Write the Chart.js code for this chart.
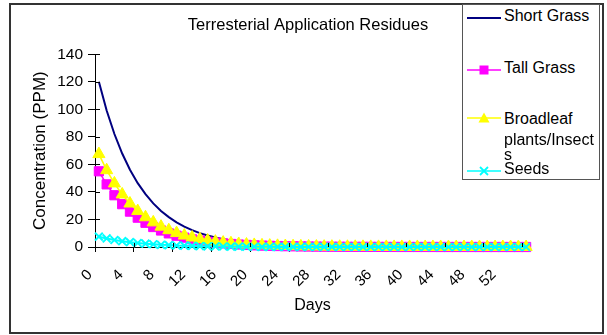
<!DOCTYPE html>
<html>
<head>
<meta charset="utf-8">
<script src="https://cdn.jsdelivr.net/npm/chart.js@4.4.0/dist/chart.umd.min.js"></script>
<style>
  html, body { margin: 0; padding: 0; background: #fff; }
  #wrap { position: relative; width: 607px; height: 335px; overflow: hidden; background: #fff; }
  #c { position: absolute; left: 0; top: 0; }
  #frame { position: absolute; left: 9px; top: 3px; width: 595px; height: 331px; border: 2px solid #333; box-sizing: border-box; pointer-events: none; }
  #legend { position: absolute; left: 462px; top: 4px; width: 138px; height: 176px; border: 1px solid #555; box-sizing: border-box; background: #fff; }
  .lg-sample { position: absolute; left: 4px; }
  .lg-text { position: absolute; left: 41px; font: 16px "Liberation Sans", Arial, sans-serif; line-height: 16px; color: #000; white-space: nowrap; }
</style>
</head>
<body>
<div id="wrap">
  <canvas id="c" width="607" height="335"></canvas>
  <div id="frame"></div>
  <div id="legend"></div>
</div>
<script>
// ---------- data ----------
const days = ["0","1","2","3","4","5","6","7","8","9","10","11","12","13","14","15","16","17","18","19",
  "20","21","22","23","24","25","26","27","28","29","30","31","32","33","34","35","36","37","38","39",
  "40","41","42","43","44","45","46","47","48","49","50","51","52","53","54","55"];
const xTickLabels = ["0","4","8","12","16","20","24","28","32","36","40","44","48","52"];
const yTickValues = [0, 20, 40, 60, 80, 100, 120, 140];

const shortGrass = [120, 99.2, 82.1, 67.9, 56.1, 46.4, 38.4, 31.7, 26.2, 21.7,
  17.9, 14.8, 12.3, 10.1, 8.4, 6.9, 5.7, 4.7, 3.9, 3.2,
  2.7, 2.2, 1.8, 1.5, 1.3, 1.0, 0.86, 0.71, 0.59, 0.49,
  0.40, 0.33, 0.27, 0.23, 0.19, 0.16, 0.13, 0.11, 0.09, 0.07,
  0.06, 0.05, 0.04, 0.03, 0.03, 0.02, 0.02, 0.02, 0.01, 0.01,
  0.01, 0.01, 0.01, 0, 0, 0];
const tallGrass = [55, 45.5, 37.6, 31.1, 25.7, 21.3, 17.6, 14.5, 12.0, 9.9,
  8.2, 6.8, 5.6, 4.7, 3.8, 3.2, 2.6, 2.2, 1.8, 1.5,
  1.2, 1.0, 0.84, 0.70, 0.58, 0.48, 0.39, 0.33, 0.27, 0.22,
  0.18, 0.15, 0.13, 0.10, 0.09, 0.07, 0.06, 0.05, 0.04, 0.03,
  0.03, 0.02, 0.02, 0.02, 0.01, 0.01, 0.01, 0.01, 0.01, 0,
  0, 0, 0, 0, 0, 0];
const broadleaf = [67.5, 55.8, 46.2, 38.2, 31.6, 26.1, 21.6, 17.9, 14.8, 12.2,
  10.1, 8.3, 6.9, 5.7, 4.7, 3.9, 3.2, 2.7, 2.2, 1.8,
  1.5, 1.2, 1.0, 0.85, 0.71, 0.58, 0.48, 0.40, 0.33, 0.27,
  0.23, 0.19, 0.15, 0.13, 0.11, 0.09, 0.07, 0.06, 0.05, 0.04,
  0.03, 0.03, 0.02, 0.02, 0.02, 0.01, 0.01, 0.01, 0.01, 0.01,
  0, 0, 0, 0, 0, 0];
const seeds = [7.5, 6.2, 5.1, 4.2, 3.5, 2.9, 2.4, 2.0, 1.6, 1.4,
  1.1, 0.93, 0.77, 0.63, 0.52, 0.43, 0.36, 0.30, 0.25, 0.20,
  0.17, 0.14, 0.11, 0.09, 0.08, 0.06, 0.05, 0.04, 0.04, 0.03,
  0.03, 0.02, 0.02, 0.01, 0.01, 0.01, 0.01, 0.01, 0, 0,
  0, 0, 0, 0, 0, 0, 0, 0, 0, 0,
  0, 0, 0, 0, 0, 0];

const seriesNames = ["Short Grass", "Tall Grass", "Broadleaf plants/Insects", "Seeds"];
const legendLines = [["Short Grass"], ["Tall Grass"], ["Broadleaf", "plants/Insect", "s"], ["Seeds"]];
const chartTitle = "Terresterial Application Residues";
const xTitle = "Days";
const yTitle = "Concentration (PPM)";

// ---------- styles ----------
const FONT = '"Liberation Sans", Arial, sans-serif';
const colors = ["#000080", "#FF00FF", "#FFFF00", "#00FFFF"];
const pointStyles = [false, "rect", "triangle", "crossRot"];

// crossing tick marks (Excel style "cross")
const crossTicks = {
  id: 'crossTicks',
  afterDraw(chart) {
    const ctx = chart.ctx;
    const xs = chart.scales.x, ys = chart.scales.y;
    const a = chart.chartArea;
    ctx.save();
    ctx.strokeStyle = '#000';
    ctx.lineWidth = 1;
    ctx.beginPath();
    ys.ticks.forEach(t => {
      const py = Math.round(ys.getPixelForValue(t.value)) + 0.5;
      ctx.moveTo(a.left, py); ctx.lineTo(a.left + 5, py);
    });
    for (let i = 0; i <= days.length; i += 5) {
      const px = Math.round(xs.getPixelForValue(i - 0.5)) + 0.5;
      ctx.moveTo(px, a.bottom); ctx.lineTo(px, a.bottom - 4);
    }
    ctx.stroke();
    ctx.restore();
  }
};

const datasets = [
  { label: seriesNames[0], data: shortGrass, borderColor: colors[0], backgroundColor: colors[0],
    borderWidth: 2, pointRadius: 0, order: 4, clip: false },
  { label: seriesNames[1], data: tallGrass, borderColor: colors[1], backgroundColor: colors[1],
    borderWidth: 1.5, pointStyle: pointStyles[1], pointRadius: 6.5, pointBorderWidth: 1, order: 3, clip: false },
  { label: seriesNames[2], data: broadleaf, borderColor: colors[2], backgroundColor: colors[2],
    borderWidth: 1.5, pointStyle: pointStyles[2], pointRadius: 7, pointBorderWidth: 1, order: 2, clip: false },
  { label: seriesNames[3], data: seeds, borderColor: colors[3], backgroundColor: colors[3],
    borderWidth: 2, pointStyle: pointStyles[3], pointRadius: 5.5, pointBorderWidth: 2, order: 1, clip: false }
];

new Chart(document.getElementById('c'), {
  type: 'line',
  data: { labels: days, datasets },
  options: {
    responsive: false,
    animation: false,
    devicePixelRatio: 1,
    layout: { padding: { left: 26, right: 17, top: 0, bottom: 19 } },
    plugins: {
      legend: { display: false },
      tooltip: { enabled: false },
      title: { display: true, text: chartTitle, color: '#000',
        font: { family: FONT, size: 16.5, weight: 'normal' }, padding: { top: 16, bottom: 18.5 } }
    },
    elements: { line: { tension: 0 } },
    scales: {
      x: {
        type: 'category',
        offset: true,
        border: { color: '#000', width: 1 },
        grid: { offset: true, drawOnChartArea: false, tickLength: 5,
          color: (c) => (c.index % 5 === 0 ? '#000' : 'rgba(0,0,0,0)') },
        ticks: { autoSkip: false, minRotation: 45, maxRotation: 45, padding: 14, labelOffset: -9, color: '#000',
          font: { family: FONT, size: 15 },
          callback: (v, i) => (xTickLabels.includes(days[i]) ? days[i] : '') },
        title: { display: true, text: xTitle, color: '#000', font: { family: FONT, size: 16 },
          padding: { top: 0, bottom: 1 } },
        afterFit: (s) => { s.height = 69; }
      },
      y: {
        min: 0, max: 140,
        border: { color: '#000', width: 1 },
        grid: { drawOnChartArea: false, tickLength: 7, color: '#000' },
        afterBuildTicks: (s) => { s.ticks = yTickValues.map(v => ({ value: v })); },
        ticks: { padding: 5, color: '#000', font: { family: FONT, size: 15.5 } },
        title: { display: true, text: yTitle, color: '#000', font: { family: FONT, size: 17 },
          padding: { top: 4, bottom: 0 } },
        afterFit: (s) => { s.width = 69; }
      },
      yPad: {
        position: 'right', display: true,
        grid: { display: false }, border: { display: false }, ticks: { display: false },
        afterFit: (s) => { s.width = 60; }
      }
    }
  },
  plugins: [crossTicks]
});

// ---------- HTML legend ----------
const legend = document.getElementById('legend');
const sampleY = [11, 63, 111, 164];        // sample centres (px, inside box)
const textBaselines = [16.5, 68, 119, 169]; // first-line baselines inside box
const lineGaps = [0, 21, 15];
function markerSVG(i) {
  const c = colors[i];
  let m = '';
  if (pointStyles[i] === 'rect') m = `<rect x="12.5" y="1.5" width="9" height="9" fill="${c}"/>`;
  if (pointStyles[i] === 'triangle') m = `<polygon points="17,0.5 22.5,10.5 11.5,10.5" fill="${c}"/>`;
  if (pointStyles[i] === 'crossRot') m = `<path d="M13,2 L21,10 M21,2 L13,10" stroke="${c}" stroke-width="1.8"/>`;
  return `<svg width="34" height="12" xmlns="http://www.w3.org/2000/svg"><line x1="0" y1="6" x2="34" y2="6" stroke="${c}" stroke-width="${i === 0 ? 2 : 1.5}"/>${m}</svg>`;
}
seriesNames.forEach((name, i) => {
  const s = document.createElement('div');
  s.className = 'lg-sample';
  s.style.top = (sampleY[i] - 6) + 'px';
  s.innerHTML = markerSVG(i);
  legend.appendChild(s);
  legendLines[i].forEach((ln, k) => {
    let base = textBaselines[i];
    for (let j = 1; j <= k; j++) base += lineGaps[j];
    const t = document.createElement('div');
    t.className = 'lg-text';
    t.style.top = (base - 13.5) + 'px';
    t.textContent = ln;
    legend.appendChild(t);
  });
});
</script>
</body>
</html>
